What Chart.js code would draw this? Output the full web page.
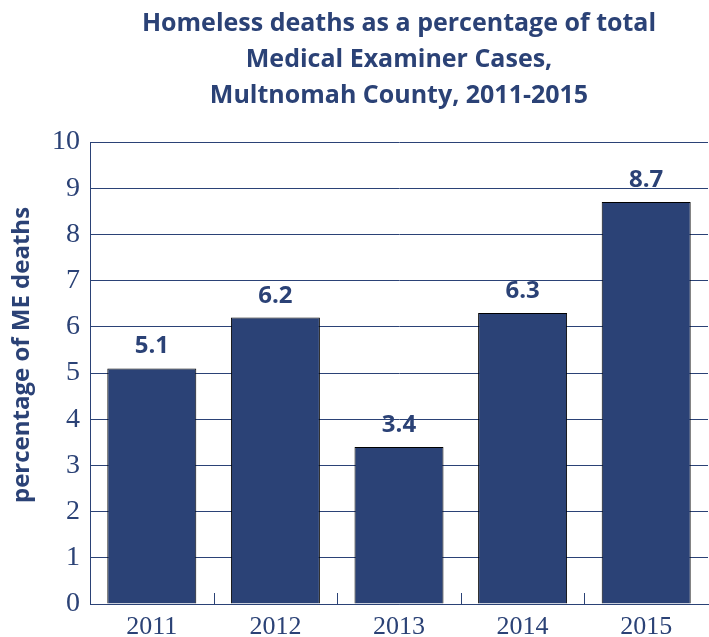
<!DOCTYPE html>
<html>
<head>
<meta charset="utf-8">
<script src="https://cdn.jsdelivr.net/npm/chart.js@4/dist/chart.umd.min.js"></script>
<style>
  html, body { margin: 0; padding: 0; background: #fff; }
  #wrap { width: 709px; height: 637px; }
</style>
</head>
<body>
<div id="wrap"><canvas id="meChart"></canvas></div>
<script>
const years = ['2011', '2012', '2013', '2014', '2015'];
const pctDeaths = [5.1, 6.2, 3.4, 6.3, 8.7];
const yTicks = [0, 1, 2, 3, 4, 5, 6, 7, 8, 9, 10];
const yTitle = 'percentage of ME deaths';

const navy = '#2b4276';

// value labels above each bar + rotated y title
const barLabels = {
  id: 'barLabels',
  afterDatasetsDraw(chart) {
    const ctx = chart.ctx;
    const meta = chart.getDatasetMeta(0);
    ctx.save();
    ctx.font = 'bold 24px "Open Sans", sans-serif';
    ctx.fillStyle = navy;
    ctx.textAlign = 'center';
    ctx.textBaseline = 'alphabetic';
    meta.data.forEach((bar, i) => {
      ctx.fillText(pctDeaths[i].toFixed(1), bar.x, bar.y - 15);
    });
    ctx.restore();

    ctx.save();
    ctx.translate(22, 355);
    ctx.rotate(-Math.PI / 2);
    ctx.font = 'bold 24px "Open Sans", sans-serif';
    ctx.fillStyle = navy;
    ctx.textAlign = 'center';
    ctx.textBaseline = 'middle';
    ctx.fillText(yTitle, 0, 0);
    ctx.restore();
  }
};

// short marks between categories on the x axis
const catMarks = {
  id: 'catMarks',
  afterDraw(chart) {
    const x = chart.scales.x;
    const ctx = chart.ctx;
    const half = (x.getPixelForValue(1) - x.getPixelForValue(0)) / 2;
    ctx.save();
    ctx.strokeStyle = navy;
    ctx.lineWidth = 1;
    for (let i = 0; i < years.length - 1; i++) {
      const px = Math.round(x.getPixelForValue(i) + half) + 0.5;
      ctx.beginPath();
      ctx.moveTo(px, x.top);
      ctx.lineTo(px, x.top - 11);
      ctx.stroke();
    }
    ctx.restore();
  }
};

new Chart(document.getElementById('meChart'), {
  type: 'bar',
  data: {
    labels: years,
    datasets: [{
      data: pctDeaths,
      backgroundColor: navy,
      borderColor: '#000',
      borderWidth: 1,
      borderSkipped: 'bottom',
      barPercentage: 0.72,
      categoryPercentage: 1
    }]
  },
  options: {
    responsive: true,
    maintainAspectRatio: false,
    animation: false,
    layout: { padding: { right: 1 } },
    plugins: {
      legend: { display: false },
      tooltip: { enabled: false },
      title: {
        display: true,
        fullSize: false,
        text: ['Homeless deaths as a percentage of total', 'Medical Examiner Cases,', 'Multnomah County, 2011-2015'],
        color: navy,
        font: { family: '"Open Sans", sans-serif', size: 25, weight: 'bold', lineHeight: 1.44 },
        padding: { top: 6, bottom: 28 }
      }
    },
    scales: {
      x: {
        grid: { display: false, drawTicks: false },
        border: { color: navy, width: 1 },
        ticks: {
          color: navy,
          padding: 9,
          font: { family: '"Liberation Serif", serif', size: 26, lineHeight: 1.1 }
        },
        afterFit(scale) { scale.height = 33; }
      },
      y: {
        min: 0,
        max: 10,
        afterBuildTicks(scale) { scale.ticks = yTicks.map(v => ({ value: v })); },
        grid: { color: navy, lineWidth: 1, drawTicks: false },
        border: { color: navy, width: 1 },
        ticks: {
          color: navy,
          padding: 10,
          font: { family: '"Liberation Serif", serif', size: 28 }
        },
        afterFit(scale) { scale.width = 90; }
      }
    }
  },
  plugins: [barLabels, catMarks]
});
</script>
</body>
</html>
